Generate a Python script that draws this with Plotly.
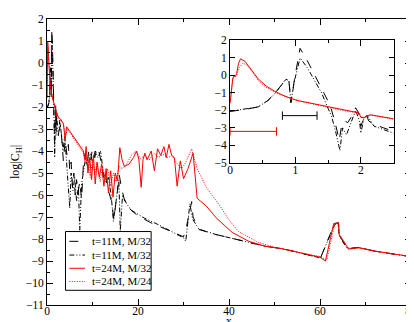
import plotly.graph_objects as go

# --- data ---
# t=11M, M/32 (dashed)
x_11a = [0, 0.2, 0.43, 0.58, 0.68, 0.78, 0.855, 0.9, 0.93, 0.985, 1.07, 1.18, 1.28, 1.4, 1.53,
         1.6, 1.67, 1.7, 1.75, 1.8, 1.85, 1.92, 1.96, 2.0, 2.02, 2.08, 2.12, 2.2, 2.35, 2.5,
         3.0, 3.3, 3.6, 4.0, 4.4, 4.7, 5.0, 5.3, 5.6, 5.9, 6.2, 6.5, 6.8, 7.2, 7.6, 8.0, 8.4,
         8.8, 9.2, 9.6, 10.0, 10.5, 11.0, 11.5, 12.0, 12.4, 12.8, 13.2, 13.7, 14.2, 14.7, 15.2,
         15.9, 16.3, 17.1, 18.0, 20.0, 22.9, 26.0, 30.0, 30.6, 31.8, 32.1, 33.4, 37.2, 44.3,
         48.0, 52.0, 56.0, 60.1, 63.2, 64.0, 64.2, 66.0, 68.5, 72.0, 76.0, 80.0]
y_11a = [-2.05, -1.97, -1.8, -1.43, -1.06, -0.56, -0.22, -0.3, -1.55, -0.22, 1.55, 0.85, 0.15,
         -0.75, -1.7, -2.6, -3.7, -3.0, -2.6, -2.7, -2.4, -1.85, -2.1, -2.9, -2.7, -2.2, -2.6,
         -2.8, -3.0, -3.2,
         -2.8, -3.6, -4.45, -3.5, -4.2, -3.7, -4.9, -4.5, -5.6, -5.0, -6.0, -5.3, -5.9, -5.4,
         -6.2, -4.6, -4.1, -4.6, -4.0, -4.4, -3.9, -4.3, -3.85, -4.1, -4.6, -5.2, -4.9, -5.6,
         -5.9, -6.3, -7.1, -6.2, -5.1, -5.6, -6.3, -6.6, -6.95, -7.27, -7.55, -7.9, -7.5,
         -6.3, -7.0, -7.57, -7.8, -8.15, -8.33, -8.45, -8.65, -8.86, -7.3, -7.26, -7.8, -8.45,
         -8.38, -8.55, -8.68, -8.8]

# t=11M, M/32 (dash-dot)
x_11b = [0, 0.2, 0.43, 0.58, 0.68, 0.78, 0.855, 0.9, 0.93, 0.985, 1.07, 1.18, 1.28, 1.4, 1.5,
         1.55, 1.62, 1.68, 1.72, 1.78, 1.85, 1.92, 1.98, 2.0, 2.05, 2.1, 2.2, 2.35, 2.5,
         2.8, 3.2, 3.5, 3.9, 4.3, 4.6, 5.0, 5.3, 5.7, 6.1, 6.5, 6.9, 7.2, 7.6, 8.0, 8.5, 9.0,
         9.5, 10.0, 10.6, 11.2, 11.8, 12.3, 12.9, 13.5, 14.1, 14.6, 15.1, 15.8, 16.1, 16.6,
         17.5, 18.6, 21.4, 25.0, 30.0, 30.5, 31.4, 32.0, 33.4, 37.2, 44.3, 48.0, 52.0, 56.0,
         60.1, 63.2, 64.0, 64.2, 66.0, 68.5, 72.0, 76.0, 80.0]
y_11b = [-2.05, -1.95, -1.8, -1.43, -1.06, -0.56, -0.22, -0.3, -1.55, -0.3, 1.0, 0.45, -0.2,
         -1.0, -1.9, -2.3, -3.3, -4.3, -3.0, -3.4, -2.7, -2.0, -2.6, -3.3, -2.4, -2.3, -2.9,
         -3.1, -3.3,
         -2.6, -3.3, -4.0, -3.3, -4.6, -5.2, -6.6, -5.0, -5.8, -5.2, -6.3, -5.6, -7.6, -5.5,
         -4.9, -4.3, -4.8, -4.1, -4.5, -4.0, -4.3, -4.0, -4.9, -5.4, -5.2, -6.0, -7.2, -6.5,
         -5.3, -7.66, -6.0, -6.4, -6.7, -7.05, -7.4, -7.95, -8.1, -6.4, -7.1, -7.55, -7.8,
         -8.15, -8.33, -8.45, -8.65, -8.86, -7.35, -7.28, -7.85, -8.45, -8.38, -8.55, -8.68,
         -8.8]

# t=24M, M/32 (solid red)
x_24a = [0, 0.02, 0.04, 0.06, 0.08, 0.1, 0.13, 0.16, 0.23, 0.33, 0.43, 0.55, 0.68, 0.8, 0.93,
         1.05, 1.18, 1.35, 1.5, 1.67, 1.85, 1.97, 2.0, 2.05, 2.1, 2.15, 2.25, 2.5,
         3.0, 3.6, 4.0, 4.3, 5.0, 6.0, 7.0, 8.0, 8.3, 8.6, 9.0, 9.4, 9.8, 10.2, 10.6, 11.0,
         11.5, 12.0, 12.5, 13.0, 13.5, 14.0, 14.5, 15.0, 15.5, 16.0, 16.5, 17.0, 18.0, 19.0,
         19.7, 20.2, 20.7, 21.1, 21.5, 22.0, 22.9, 23.6, 24.3, 25.0, 25.7, 26.2, 26.8, 27.4,
         28.0, 28.6, 29.3, 30.0, 31.0, 32.1, 33.0, 35.0, 37.2, 40.7, 44.3, 47.9, 51.4, 55.0,
         60.0, 61.2, 63.0, 64.1, 64.2, 66.3, 68.5, 72.0, 76.0, 80.0]
y_24a = [-1.6, -0.9, -0.2, 0.0, -0.05, 0.1, 0.7, 0.95, 0.8, 0.3, -0.2, -0.6, -0.9, -1.12,
         -1.32, -1.45, -1.55, -1.7, -1.82, -1.95, -2.07, -2.14, -2.4, -2.42, -2.3, -2.25,
         -2.32, -2.48,
         -2.55, -2.75, -3.5, -2.9, -3.1, -3.4, -3.7, -4.0, -4.4, -3.8, -5.0, -4.3, -5.3, -4.2,
         -5.5, -4.5, -5.2, -4.6, -5.6, -4.8, -5.9, -4.9, -6.1, -5.0, -5.35, -3.85, -4.4,
         -4.7, -4.6, -4.3, -4.0, -4.4, -5.65, -4.4, -4.1, -4.4, -4.0, -4.9, -3.9, -4.2, -3.8,
         -4.3, -3.7, -4.2, -4.3, -5.6, -4.45, -5.26, -4.8, -4.1, -6.15, -6.5, -7.04, -7.7,
         -8.1, -8.33, -8.43, -8.6, -8.83, -9.0, -7.3, -7.26, -7.8, -8.46, -8.4, -8.55, -8.68,
         -8.8]

# t=24M, M/24 (dotted red)
x_24b = [0, 0.02, 0.04, 0.06, 0.08, 0.1, 0.14, 0.2, 0.27, 0.35, 0.43, 0.55, 0.68, 0.8, 0.93,
         1.05, 1.18, 1.35, 1.5, 1.67, 1.85, 1.97, 2.0, 2.05, 2.1, 2.15, 2.25, 2.5,
         3.0, 3.6, 4.1, 4.5, 5.0, 6.0, 7.0, 8.0, 8.5, 9.0, 9.5, 10.0, 10.5, 11.0, 11.7, 12.2,
         12.8, 13.3, 14.0, 14.6, 15.2, 15.8, 16.5, 17.5, 18.5, 19.5, 20.5, 21.5, 22.5, 23.5,
         24.5, 25.5, 26.5, 27.5, 28.5, 29.5, 30.3, 31.8, 33.0, 35.0, 37.9, 40.0, 42.1, 46.4,
         50.0, 55.0, 60.0, 61.5, 63.2, 64.1, 64.3, 66.3, 68.5, 72.0, 76.0, 80.0]
y_24b = [-1.5, -0.9, -0.3, -0.05, -0.1, 0.0, 0.45, 0.7, 0.55, 0.15, -0.3, -0.68, -0.95,
         -1.15, -1.33, -1.46, -1.56, -1.71, -1.83, -1.96, -2.08, -2.15, -2.35, -2.4, -2.32,
         -2.28, -2.33, -2.5,
         -2.6, -2.8, -3.3, -3.0, -3.15, -3.45, -3.75, -4.1, -4.6, -4.2, -5.2, -4.4, -5.0,
         -4.6, -5.4, -4.7, -5.3, -4.8, -5.6, -5.0, -5.4, -4.7, -4.8, -4.6, -4.2, -4.0, -4.35,
         -4.2, -4.4, -4.1, -4.3, -4.15, -4.3, -4.2, -4.55, -4.8, -4.6, -3.9, -4.8, -5.65,
         -6.46, -7.13, -7.66, -8.15, -8.38, -8.6, -8.8, -8.95, -7.35, -7.3, -7.8, -8.42, -8.4,
         -8.55, -8.68, -8.8]

# horizontal bars in the inset
bar_black_x = [0.8, 1.33]
bar_black_y = [-2.3, -2.3]
bar_red_x = [0.0, 0.71]
bar_red_y = [-3.2, -3.2]

series = [
    ("t=11M, M/32", x_11a, y_11a, "black", "dash"),
    ("t=11M, M/32", x_11b, y_11b, "black", "5px,2px,1px,2px,1px,2px"),
    ("t=24M, M/32", x_24a, y_24a, "red", "solid"),
    ("t=24M, M/24", x_24b, y_24b, "red", "1px,1.5px"),
]

fig = go.Figure()

# main panel
for name, xs, ys, col, dash in series:
    fig.add_trace(go.Scatter(x=xs, y=ys, mode="lines", name=name, showlegend=False,
                             line=dict(color=col, width=1, dash=dash),
                             xaxis="x", yaxis="y"))

# inset panel, same curves
for name, xs, ys, col, dash in series:
    fig.add_trace(go.Scatter(x=xs, y=ys, mode="lines", showlegend=False,
                             line=dict(color=col, width=1, dash=dash),
                             xaxis="x2", yaxis="y2"))

for bx, by, col in [(bar_black_x, bar_black_y, "black"), (bar_red_x, bar_red_y, "red")]:
    fig.add_trace(go.Scatter(x=bx, y=by, mode="lines+markers", showlegend=False,
                             line=dict(color=col, width=1),
                             marker=dict(symbol="line-ns-open", size=6,
                                         line=dict(color=col, width=1)),
                             xaxis="x2", yaxis="y2"))

font = "Liberation Serif"
axis_common = dict(showline=True, linecolor="black", linewidth=1, mirror="ticks",
                   ticks="inside", tickcolor="black", showgrid=False, zeroline=False,
                   tickfont=dict(family=font, size=11.5, color="black"))

# legend box drawn by hand, in paper coords of the main panel
W, H, L, T = 374.0, 292.0, 33.0, 5.0
def px(v):
    return (v - L) / W
def py(v):
    return 1 - (v - T) / H

shapes = [dict(type="rect", xref="paper", yref="paper",
               x0=px(52), x1=px(140), y0=py(282), y1=py(222),
               line=dict(color="black", width=1), fillcolor="white", layer="above")]
annotations = []
rows = [232, 246, 259.5, 273]
for (name, xs, ys, col, dash), r in zip(series, rows):
    shapes.append(dict(type="line", xref="paper", yref="paper",
                       x0=px(56), x1=px(72), y0=py(r), y1=py(r),
                       line=dict(color=col, width=1, dash=dash), layer="above"))
    annotations.append(dict(xref="paper", yref="paper", x=px(77), y=py(r), text=name,
                            showarrow=False, xanchor="left", yanchor="middle",
                            font=dict(family=font, size=11, color="black")))

# x axis title placed by hand (little room below the tick labels)
annotations.append(dict(xref="paper", yref="paper", x=0.5, y=py(313.5), text="x",
                        showarrow=False, xanchor="center", yanchor="middle",
                        font=dict(family=font, size=11.5, color="black")))

fig.update_layout(
    width=414, height=322,
    margin=dict(l=33, r=7, t=5, b=25),
    plot_bgcolor="white", paper_bgcolor="white",
    font=dict(family=font, size=12, color="black"),
    showlegend=False,
    shapes=shapes,
    annotations=annotations,
    xaxis=dict(domain=[0, 1], range=[0, 80], tick0=0, dtick=20, ticklen=6,
               ticklabelstandoff=-5,
               minor=dict(dtick=10, ticklen=3, ticks="inside", tickcolor="black"),
               **axis_common),
    yaxis=dict(domain=[0, 1], range=[-11, 2], tick0=0, dtick=1, ticklen=6,
               minor=dict(dtick=0.5, ticklen=3, ticks="inside", tickcolor="black"),
               title=dict(text="log|C<sub>H</sub>|", standoff=4,
                          font=dict(family=font, size=12)),
               **axis_common),
    xaxis2=dict(domain=[0.503, 0.952], range=[0, 2.5], tick0=0, dtick=1, ticklen=6,
                ticklabelstandoff=-4,
                minor=dict(dtick=0.5, ticklen=3, ticks="inside", tickcolor="black"),
                anchor="y2", **axis_common),
    yaxis2=dict(domain=[0.497, 0.925], range=[-5, 2], tick0=0, dtick=1, ticklen=5,
                anchor="x2", **axis_common),
)

fig.write_html("out.html")
